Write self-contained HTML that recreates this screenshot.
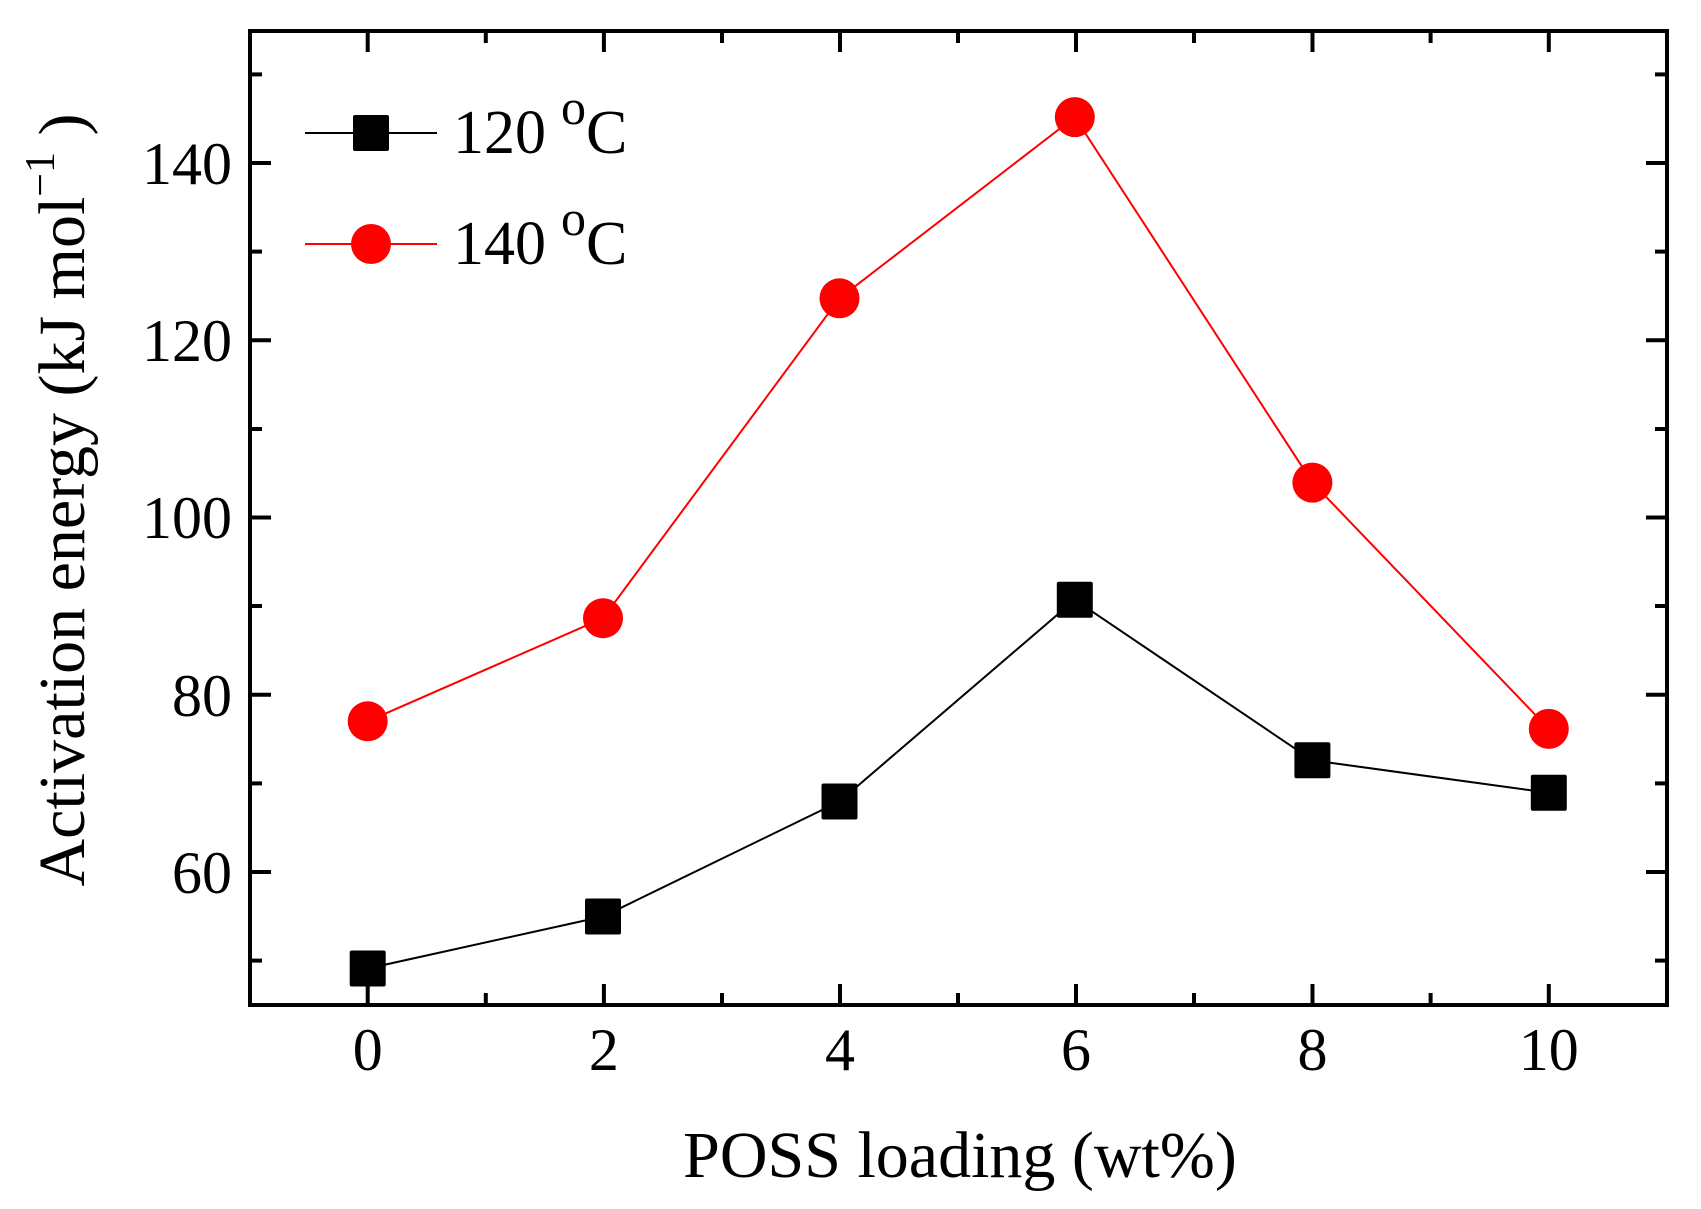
<!DOCTYPE html>
<html><head><meta charset="utf-8"><style>
html,body{margin:0;padding:0;background:#fff;}
svg{display:block;font-family:"Liberation Serif",serif;}
</style></head><body>
<svg width="1701" height="1209" viewBox="0 0 1701 1209" xmlns="http://www.w3.org/2000/svg">
<rect width="1701" height="1209" fill="#fff"/>
<g stroke="#000" stroke-width="4">
<line x1="250" y1="872" x2="271" y2="872"/><line x1="250" y1="694.75" x2="271" y2="694.75"/><line x1="250" y1="517.5" x2="271" y2="517.5"/><line x1="250" y1="340.25" x2="271" y2="340.25"/><line x1="250" y1="163" x2="271" y2="163"/>
<line x1="250" y1="960.6" x2="262" y2="960.6"/><line x1="250" y1="783.4" x2="262" y2="783.4"/><line x1="250" y1="606" x2="262" y2="606"/><line x1="250" y1="429" x2="262" y2="429"/><line x1="250" y1="251.6" x2="262" y2="251.6"/><line x1="250" y1="74.4" x2="262" y2="74.4"/>
<line x1="1667" y1="872" x2="1646" y2="872"/><line x1="1667" y1="694.75" x2="1646" y2="694.75"/><line x1="1667" y1="517.5" x2="1646" y2="517.5"/><line x1="1667" y1="340.25" x2="1646" y2="340.25"/><line x1="1667" y1="163" x2="1646" y2="163"/>
<line x1="1667" y1="960.6" x2="1655" y2="960.6"/><line x1="1667" y1="783.4" x2="1655" y2="783.4"/><line x1="1667" y1="606" x2="1655" y2="606"/><line x1="1667" y1="429" x2="1655" y2="429"/><line x1="1667" y1="251.6" x2="1655" y2="251.6"/><line x1="1667" y1="74.4" x2="1655" y2="74.4"/>
<line x1="367.7" y1="1005" x2="367.7" y2="984"/><line x1="603.9" y1="1005" x2="603.9" y2="984"/><line x1="840" y1="1005" x2="840" y2="984"/><line x1="1076" y1="1005" x2="1076" y2="984"/><line x1="1312.5" y1="1005" x2="1312.5" y2="984"/><line x1="1548.8" y1="1005" x2="1548.8" y2="984"/>
<line x1="485.8" y1="1005" x2="485.8" y2="993"/><line x1="722" y1="1005" x2="722" y2="993"/><line x1="958" y1="1005" x2="958" y2="993"/><line x1="1194" y1="1005" x2="1194" y2="993"/><line x1="1430.6" y1="1005" x2="1430.6" y2="993"/>
<line x1="367.7" y1="31" x2="367.7" y2="52"/><line x1="603.9" y1="31" x2="603.9" y2="52"/><line x1="840" y1="31" x2="840" y2="52"/><line x1="1076" y1="31" x2="1076" y2="52"/><line x1="1312.5" y1="31" x2="1312.5" y2="52"/><line x1="1548.8" y1="31" x2="1548.8" y2="52"/>
<line x1="485.8" y1="31" x2="485.8" y2="43"/><line x1="722" y1="31" x2="722" y2="43"/><line x1="958" y1="31" x2="958" y2="43"/><line x1="1194" y1="31" x2="1194" y2="43"/><line x1="1430.6" y1="31" x2="1430.6" y2="43"/>
</g>
<rect x="250" y="31" width="1417" height="974" fill="none" stroke="#000" stroke-width="4"/>
<polyline fill="none" stroke="#f00" stroke-width="2" points="367.7,721.3 603,618.2 839.5,298.3 1074.8,117.1 1312.4,482.6 1548.8,728.9"/>
<g fill="#f00">
<circle cx="367.7" cy="721.3" r="20"/><circle cx="603" cy="618.2" r="20"/><circle cx="839.5" cy="298.3" r="20"/><circle cx="1074.8" cy="117.1" r="20"/><circle cx="1312.4" cy="482.6" r="20"/><circle cx="1548.8" cy="728.9" r="20"/>
</g>
<polyline fill="none" stroke="#000" stroke-width="2" points="367.7,968.5 603,916.5 839.5,801.5 1074.8,599.8 1312.4,760.3 1548.8,792.8"/>
<g fill="#000">
<rect x="349.7" y="950.5" width="36" height="36" rx="2"/><rect x="585" y="898.5" width="36" height="36" rx="2"/><rect x="821.5" y="783.5" width="36" height="36" rx="2"/><rect x="1056.8" y="581.8" width="36" height="36" rx="2"/><rect x="1294.4" y="742.3" width="36" height="36" rx="2"/><rect x="1530.8" y="774.8" width="36" height="36" rx="2"/>
</g>
<line x1="305" y1="133" x2="437" y2="133" stroke="#000" stroke-width="2"/>
<rect x="353" y="115" width="36" height="36" rx="2" fill="#000"/>
<line x1="305" y1="244" x2="437" y2="244" stroke="#f00" stroke-width="2"/>
<circle cx="371" cy="244" r="20" fill="#f00"/>
<g font-size="62" fill="#000">
<text x="453" y="153">120</text><text x="561" y="124" font-size="50">o</text><text x="586" y="153">C</text>
<text x="453" y="264">140</text><text x="561" y="235" font-size="50">o</text><text x="586" y="264">C</text>
</g>
<g font-size="60" text-anchor="middle" fill="#000">
<text x="367.7" y="1070">0</text><text x="603.9" y="1070">2</text><text x="840" y="1070">4</text><text x="1076" y="1070">6</text><text x="1312.5" y="1070">8</text><text x="1548.8" y="1070">10</text>
</g>
<g font-size="60" text-anchor="end" fill="#000">
<text x="232" y="893">60</text><text x="232" y="716">80</text><text x="232" y="538">100</text><text x="232" y="361">120</text><text x="232" y="184">140</text>
</g>
<text x="960" y="1177" font-size="66" text-anchor="middle">POSS loading (wt%)</text>
<text transform="translate(84,500) rotate(-90)" font-size="66" text-anchor="middle">Activation energy (kJ   mol<tspan font-size="42" dy="-30">−1</tspan><tspan dy="30"> )</tspan></text>
</svg>
</body></html>
